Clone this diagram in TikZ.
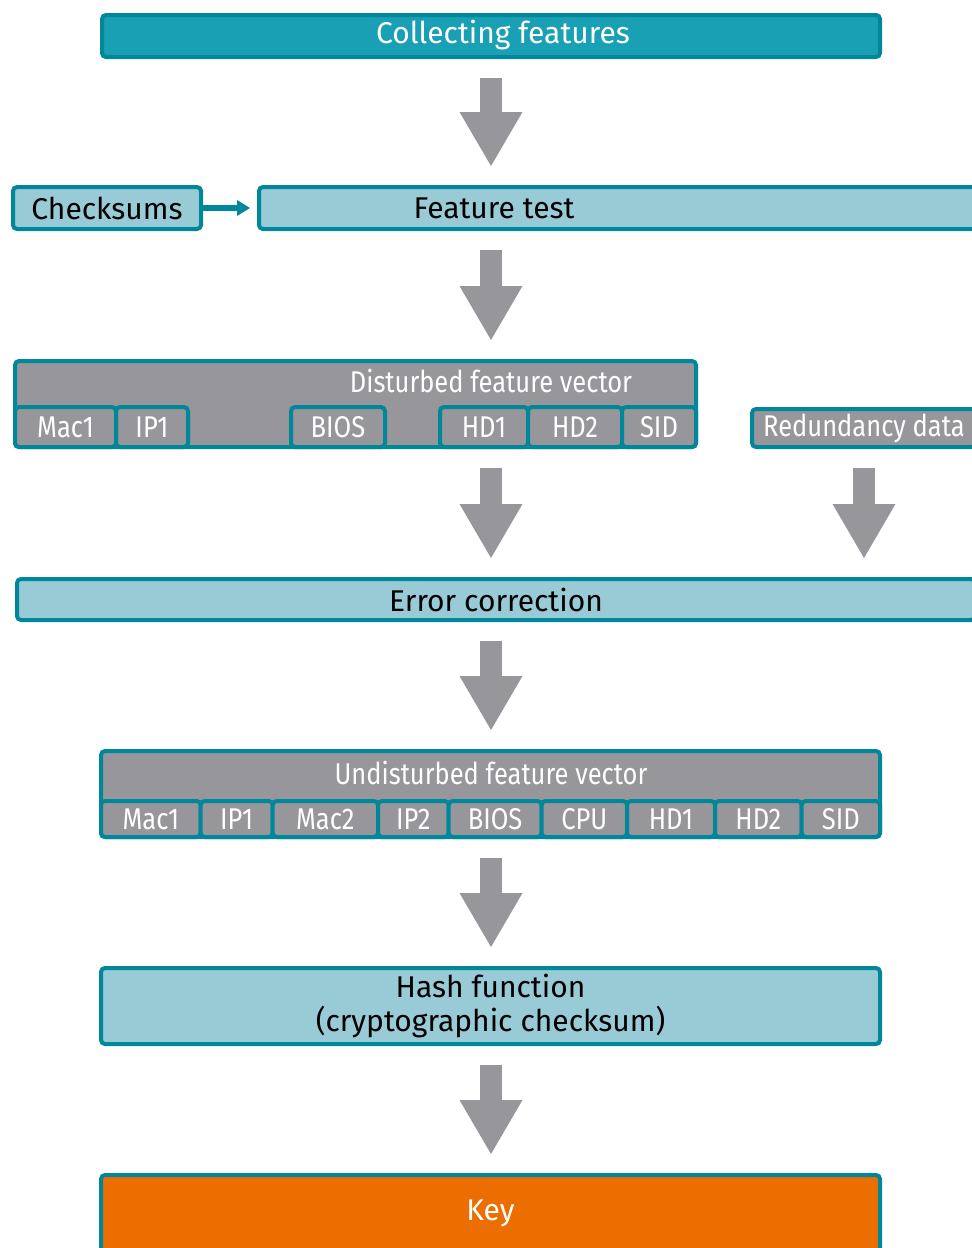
\documentclass[tikz,border=0pt]{standalone}
\usepackage{fontspec}
\setmainfont{Fira Sans}
\newfontfamily\condfont[FakeStretch=0.85]{Fira Sans}
\usetikzlibrary{arrows.meta}
\definecolor{petrol}{HTML}{00889A}
\definecolor{headteal}{HTML}{1AA0B4}
\definecolor{lightteal}{HTML}{99CBD6}
\definecolor{vecgray}{HTML}{97969B}
\definecolor{keyorange}{HTML}{EC6E00}

\begin{document}
\begin{tikzpicture}[x=0.5pt, y=-0.5pt,
	boxsize/.style 2 args={minimum width=#1*0.5pt, minimum height=#2*0.5pt},
	frame/.style={draw=petrol, line width=2pt, rounded corners=2pt, inner sep=0pt},
	stagebox/.style={frame, fill=lightteal, font=\fontsize{15}{17}\selectfont},
	stagetext/.style={font=\fontsize{15}{17}\selectfont},
	vecbox/.style={frame, fill=vecgray, text=white, font=\condfont\fontsize{15}{17}\selectfont},
	vectext/.style={text=white, font=\condfont\fontsize{15}{17}\selectfont},
	bigarrow/.style={draw=vecgray, line width=11pt, -{Triangle[width=31.5pt,length=27pt,line width=0pt]}, shorten <=9.5pt, shorten >=9.5pt},
	smallarrow/.style={draw=petrol, line width=3pt, -{Triangle[width=8pt,length=6.5pt,line width=0pt]}, shorten >=3.5pt}]
	\useasboundingbox (0,0) rectangle (972,1248);
	\coordinate (axis) at (491,0); % line of the big arrows
	% stages
	\node[frame, fill=headteal, boxsize={778}{42}] (collect) at (491,36) {};
	\node[stagetext, text=white] (collecttext) at (503,35) {Collecting features};
	\node[stagebox, boxsize={188}{42}] (checks) at (107,208) {Checksums};
	\node[stagebox, boxsize={843}{42}, anchor=west] (test) at (257,208) {};
	\node[stagetext] (testtext) at (494,208) {Feature test};
	% disturbed vector, some fields missing
	\node[vecbox, boxsize={681}{86}] (dvec) at (355.5,404) {};
	\node[vectext] (dhead) at (491,381) {Disturbed feature vector};
	\foreach \cname/\ctext/\xa/\xb in {dmaca/Mac1/15/116, dipa/IP1/116/188, dbios/BIOS/291/385,
		dhda/HD1/440/528, dhdb/HD2/528/622, dsid/SID/622/696}
		\node[vecbox, minimum width=(\xb-\xa)*0.5pt, minimum height=20pt] (\cname) at ({(\xa+\xb)/2},427) {\ctext};
	\node[vecbox, boxsize={224}{38}] (redund) at (864,428) {Redundancy data};
	\node[stagebox, boxsize={958}{41}] (errcorr) at (496,599.5) {Error correction};
	% undisturbed vector, all fields
	\node[vecbox, boxsize={779}{86}] (uvec) at (490.5,794) {};
	\node[vectext] (uhead) at (491,773) {Undisturbed feature vector};
	\foreach \cname/\ctext/\xa/\xb in {umaca/Mac1/101/200.7, uipa/IP1/200.7/272.7, umacb/Mac2/272.7/378,
		uipb/IP2/378/448.7, ubios/BIOS/448.7/541.5, ucpu/CPU/541.5/627, uhda/HD1/627/715,
		uhdb/HD2/715/801.7, usid/SID/801.7/880}
		\node[vecbox, minimum width=(\xb-\xa)*0.5pt, minimum height=18pt] (\cname) at ({(\xa+\xb)/2},819) {\ctext};
	\node[stagebox, boxsize={779}{76}, align=center] (hash) at (490.5,1006) {Hash function\\(cryptographic checksum)};
	\node[frame, fill=keyorange, text=white, font=\fontsize{15}{17}\selectfont, boxsize={779}{77}] (key) at (490.5,1213.5) {Key};
	% arrows
	\draw[smallarrow] (checks) -- (test);
	\draw[bigarrow] (collect.south) -- (test.north -| collect.south);
	\draw[bigarrow] (test.south -| axis) -- (dvec.north -| axis);
	\draw[bigarrow] (dvec.south -| axis) -- (errcorr.north -| axis);
	\draw[bigarrow] (redund.south) -- (errcorr.north -| redund.south);
	\draw[bigarrow] (errcorr.south -| axis) -- (uvec.north -| axis);
	\draw[bigarrow] (uvec.south -| axis) -- (hash.north -| axis);
	\draw[bigarrow] (hash.south -| axis) -- (key.north -| axis);
\end{tikzpicture}
\end{document}
